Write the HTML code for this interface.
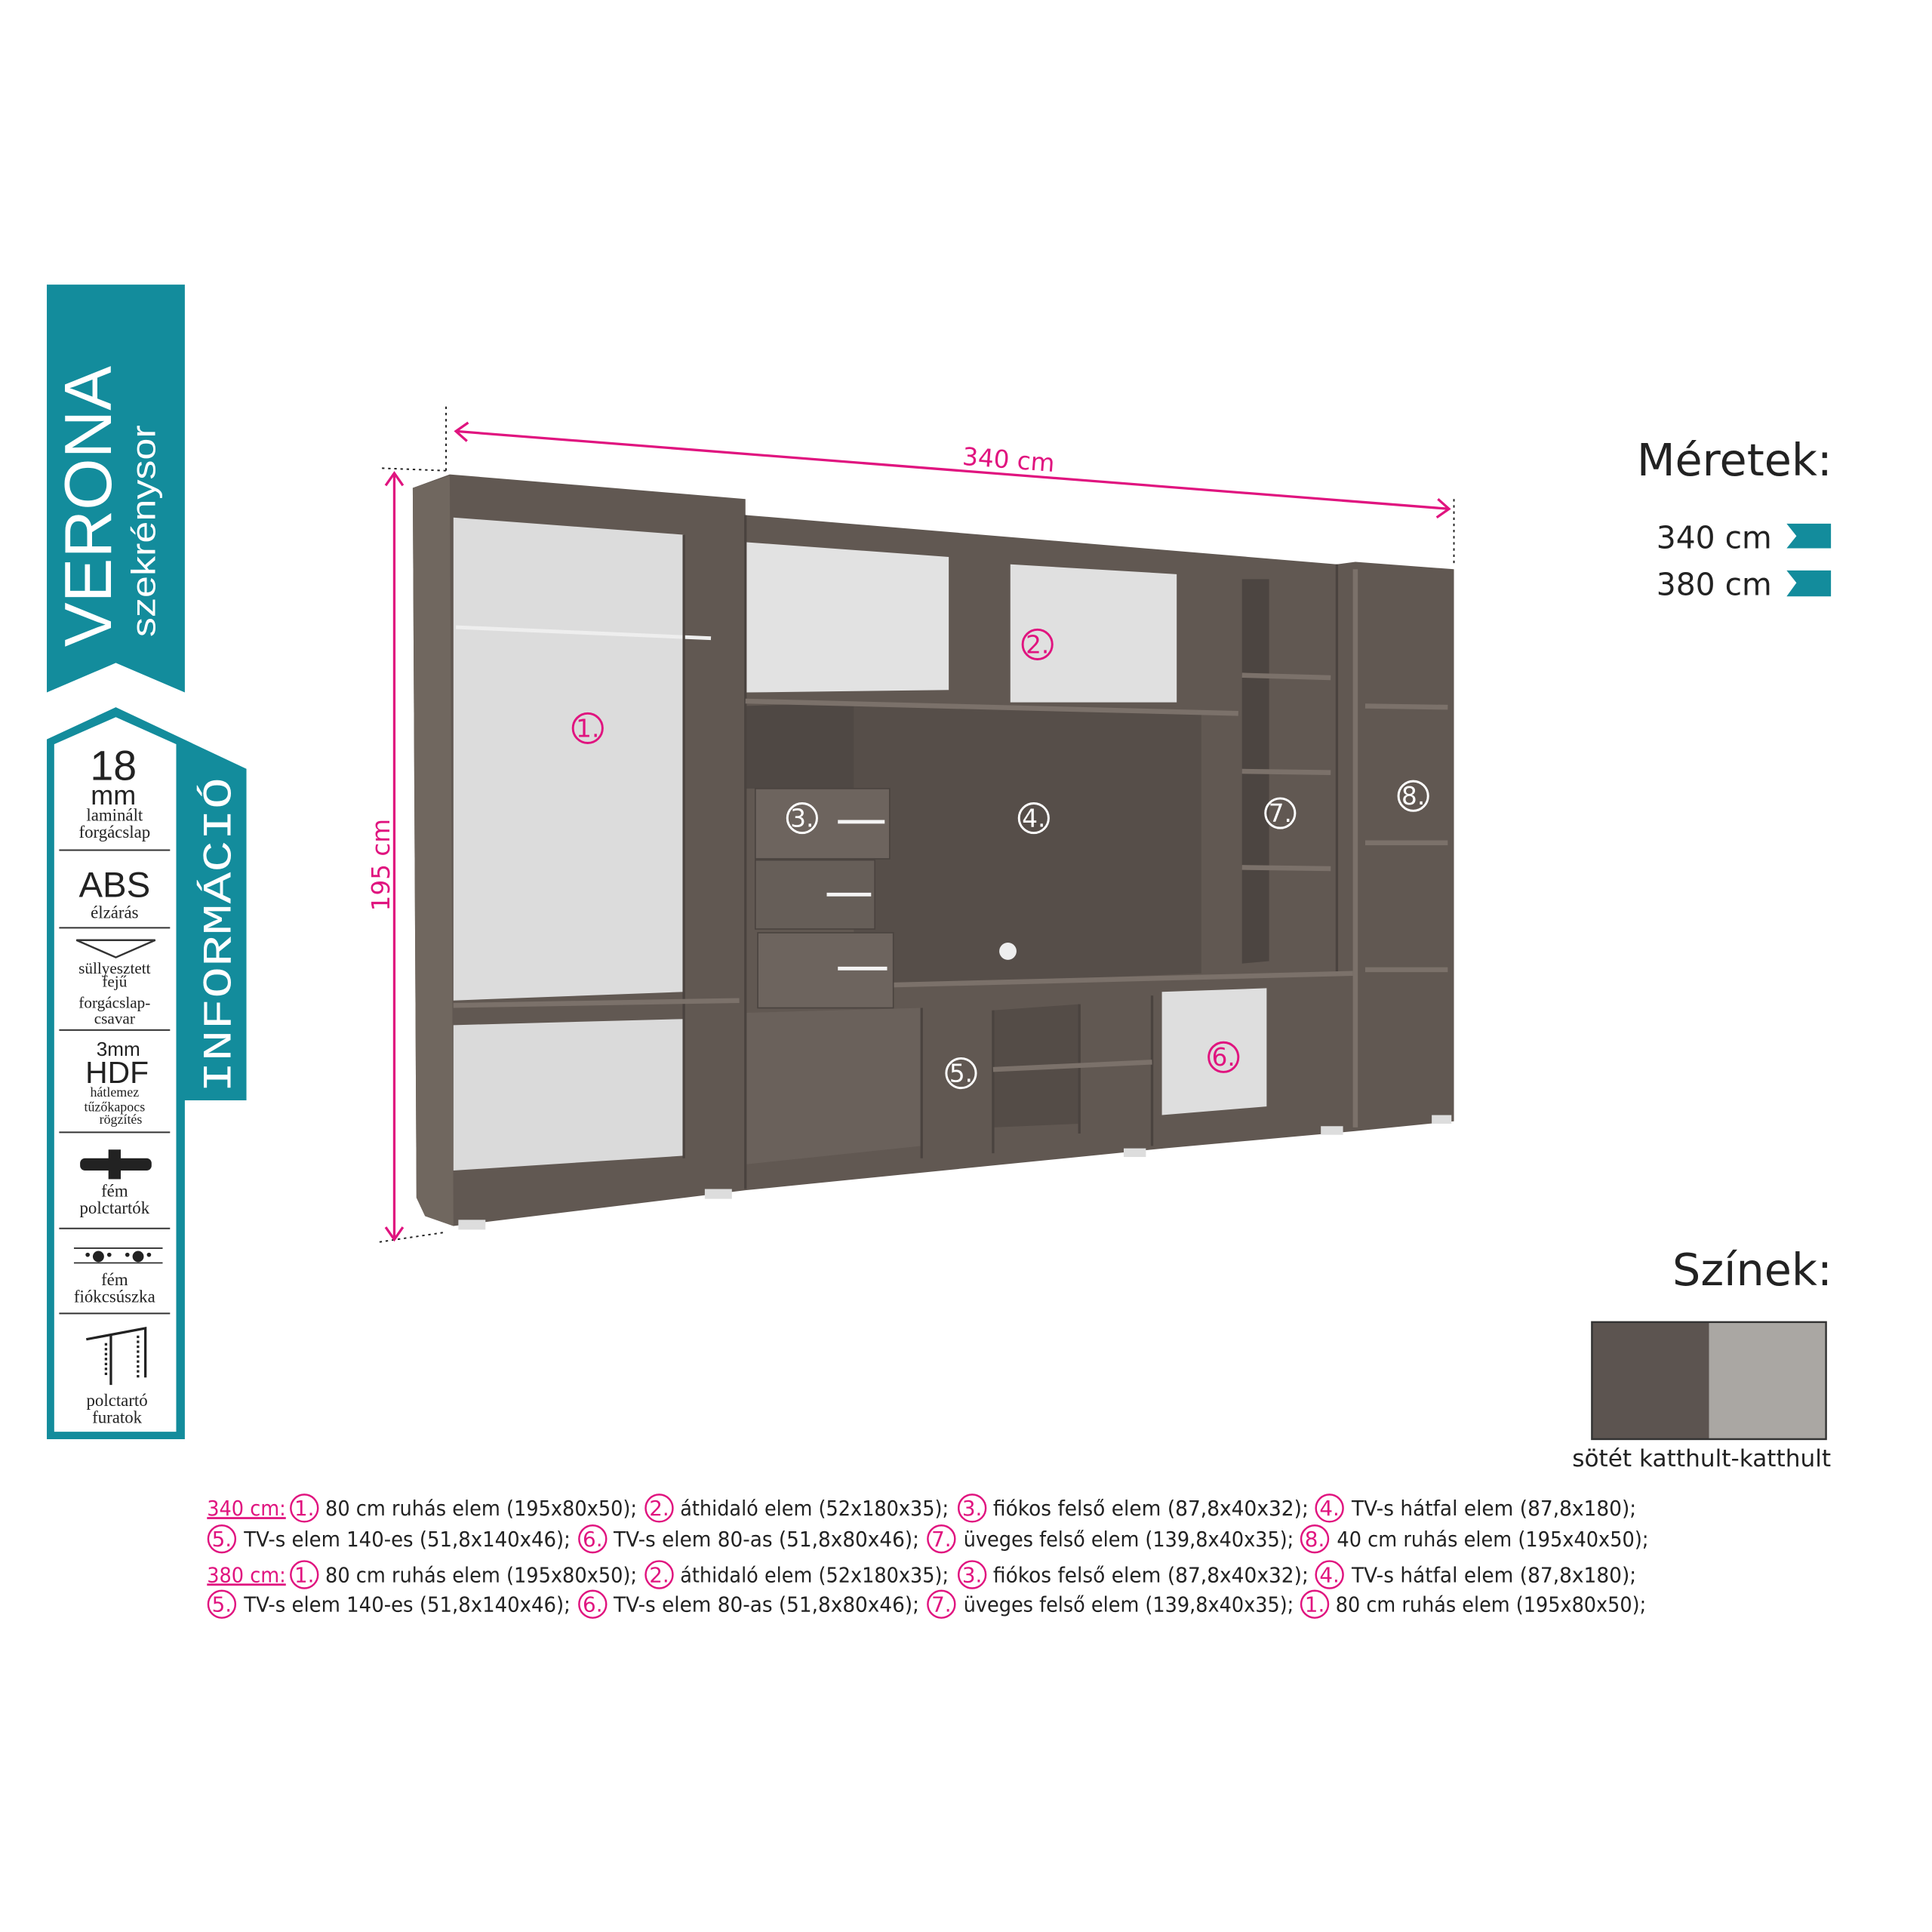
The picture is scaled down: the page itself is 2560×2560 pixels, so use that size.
<!DOCTYPE html>
<html><head><meta charset="utf-8"><style>
html,body{margin:0;padding:0;background:#fff;}
svg{display:block;}
text{font-family:"DejaVu Sans","Liberation Sans",sans-serif;}
.s{font-family:"Liberation Serif",serif;fill:#222;text-anchor:middle;}
.b{font-size:17px;fill:#222;}
.p{fill:#e0147f;}
</style></head><body>
<svg width="2560" height="2560" viewBox="0 0 1568 1568" xmlns="http://www.w3.org/2000/svg">
<rect width="1568" height="1568" fill="#fff"/>
<!-- Left banner -->
<polygon points="38,231 150,231 150,562 94,538 38,562" fill="#138c9c"/>
<text transform="translate(90,525) rotate(-90)" font-size="54" fill="#fff" textLength="228" lengthAdjust="spacingAndGlyphs" style="font-family:'Liberation Sans'">VERONA</text>
<text transform="translate(126,517) rotate(-90)" font-size="27" fill="#fff" textLength="172" lengthAdjust="spacingAndGlyphs" style="font-family:'Liberation Sans'">szekrénysor</text>
<!-- info box -->
<polygon points="38,600 94,574 200,624 200,893 150,893 150,1168 38,1168" fill="#138c9c"/>
<polygon points="44,604 94,582 143,604 143,1162 44,1162" fill="#fff"/>
<text transform="translate(187,887) rotate(-90)" font-size="33" fill="#fff" textLength="256" lengthAdjust="spacingAndGlyphs" style="font-family:'Liberation Mono'">INFORMÁCIÓ</text>
<g stroke="#333" stroke-width="1.2">
<line x1="48" y1="690" x2="138" y2="690"/><line x1="48" y1="753" x2="138" y2="753"/>
<line x1="48" y1="836" x2="138" y2="836"/><line x1="48" y1="919" x2="138" y2="919"/>
<line x1="48" y1="997" x2="138" y2="997"/><line x1="48" y1="1066" x2="138" y2="1066"/>
</g>
<text x="92" y="633" font-size="34" text-anchor="middle" fill="#222" style="font-family:'Liberation Sans'">18</text>
<text x="92" y="653" font-size="22" text-anchor="middle" fill="#222" style="font-family:'Liberation Sans'">mm</text>
<text class="s" x="93" y="666" font-size="14">laminált</text>
<text class="s" x="93" y="680" font-size="14">forgácslap</text>
<text x="93" y="728" font-size="29" text-anchor="middle" fill="#222" style="font-family:'Liberation Sans'">ABS</text>
<text class="s" x="93" y="745" font-size="14">élzárás</text>
<polygon points="62,763 126,763 94,777" fill="none" stroke="#333" stroke-width="1.5"/>
<text class="s" x="93" y="790" font-size="13">süllyesztett</text>
<text class="s" x="93" y="801" font-size="13">fejű</text>
<text class="s" x="93" y="818" font-size="13">forgácslap-</text>
<text class="s" x="93" y="831" font-size="13">csavar</text>
<text x="96" y="857" font-size="16" text-anchor="middle" fill="#222" style="font-family:'Liberation Sans'">3mm</text>
<text x="95" y="879" font-size="25" text-anchor="middle" fill="#222" style="font-family:'Liberation Sans'">HDF</text>
<text class="s" x="93" y="890" font-size="11">hátlemez</text>
<text class="s" x="93" y="902" font-size="11">tűzőkapocs</text>
<text class="s" x="98" y="912" font-size="11">rögzítés</text>
<rect x="65" y="940" width="58" height="10" rx="4" fill="#222"/><rect x="88" y="933" width="10" height="24" fill="#222"/>
<text class="s" x="93" y="971" font-size="14">fém</text>
<text class="s" x="93" y="985" font-size="14">polctartók</text>
<line x1="60" y1="1013" x2="132" y2="1013" stroke="#222"/><line x1="60" y1="1025" x2="132" y2="1025" stroke="#222"/>
<text x="96" y="1023" font-size="12" text-anchor="middle" fill="#222">•●• &#160;•●•</text>
<text class="s" x="93" y="1043" font-size="14">fém</text>
<text class="s" x="93" y="1057" font-size="14">fiókcsúszka</text>
<g stroke="#222" stroke-width="2" fill="none"><polyline points="70,1087 118,1078 118,1118"/><line x1="90" y1="1083" x2="90" y2="1124"/><line x1="86" y1="1090" x2="86" y2="1118" stroke-dasharray="2,2"/><line x1="112" y1="1084" x2="112" y2="1118" stroke-dasharray="2,2"/></g>
<text class="s" x="95" y="1141" font-size="14">polctartó</text>
<text class="s" x="95" y="1155" font-size="14">furatok</text>

<!-- Furniture -->
<polygon points="335,396 365,385 605,405 605,418 1085,458 1100,456 1180,462 1180,910 1100,918 945,932 605,966 368,995 345,987 338,972" fill="#615852"/>
<polygon points="335,396 365,386 368,995 345,987 338,972" fill="#70675f"/>
<polygon points="368,420 555,434 555,805 368,812" fill="#dcdcdc"/>
<polygon points="368,832 555,827 555,938 368,950" fill="#dadada"/>
<line x1="370" y1="509" x2="577" y2="518" stroke="#eee" stroke-width="3"/>
<polygon points="605,440 770,452 770,560 605,562" fill="#e2e2e2"/>
<polygon points="820,458 955,466 955,570 820,570" fill="#e0e0e0"/>
<polygon points="605,573 693,570 693,640 605,640" fill="#4f4844"/>
<polygon points="693,573 975,580 975,790 720,800 693,780" fill="#564e49"/>
<polygon points="605,822 748,818 748,930 605,945" fill="#6a615b"/>
<polygon points="806,820 876,815 876,912 806,915" fill="#544c47"/>
<polygon points="943,805 1028,802 1028,898 943,905" fill="#dedede"/>
<polygon points="1008,470 1030,470 1030,780 1008,782" fill="#4c4541"/>
<g stroke="#4a433f" stroke-width="2">
<line x1="555" y1="434" x2="555" y2="940"/><line x1="605" y1="418" x2="605" y2="965"/>
<line x1="748" y1="818" x2="748" y2="940"/><line x1="806" y1="820" x2="806" y2="936"/>
<line x1="876" y1="815" x2="876" y2="920"/><line x1="935" y1="808" x2="935" y2="930"/>
<line x1="1085" y1="458" x2="1085" y2="790"/>
</g>
<g stroke="#7b716a" stroke-width="4">
<line x1="368" y1="816" x2="600" y2="812"/>
<line x1="605" y1="569" x2="1005" y2="579"/>
<line x1="700" y1="800" x2="1098" y2="790"/>
<line x1="806" y1="868" x2="935" y2="862"/>
<line x1="1008" y1="548" x2="1080" y2="550"/><line x1="1008" y1="626" x2="1080" y2="627"/><line x1="1008" y1="704" x2="1080" y2="705"/>
<line x1="1108" y1="573" x2="1175" y2="574"/><line x1="1108" y1="684" x2="1175" y2="684"/><line x1="1108" y1="787" x2="1175" y2="787"/>
<line x1="1100" y1="462" x2="1100" y2="915"/>
</g>
<rect x="613" y="640" width="109" height="57" fill="#6d645e" stroke="#4a433f"/>
<rect x="613" y="698" width="97" height="56" fill="#665e58" stroke="#4a433f"/>
<rect x="615" y="757" width="110" height="61" fill="#6d645e" stroke="#4a433f"/>
<g stroke="#f4f4f4" stroke-width="3"><line x1="680" y1="667" x2="718" y2="667"/><line x1="671" y1="726" x2="707" y2="726"/><line x1="680" y1="786" x2="720" y2="786"/></g>
<circle cx="818" cy="772" r="7" fill="#eee"/>
<g fill="#ddd"><rect x="372" y="990" width="22" height="8"/><rect x="572" y="965" width="22" height="8"/><rect x="912" y="932" width="18" height="7"/><rect x="1072" y="914" width="18" height="7"/><rect x="1162" y="905" width="16" height="7"/></g>

<!-- labels on furniture -->
<g font-size="20" text-anchor="middle">
<circle cx="477" cy="591" r="12" fill="none" stroke="#e0147f" stroke-width="1.8"/><text x="477" y="598" class="p">1.</text>
<circle cx="842" cy="523" r="12" fill="none" stroke="#e0147f" stroke-width="1.8"/><text x="842" y="530" class="p">2.</text>
<circle cx="993" cy="858" r="12" fill="none" stroke="#e0147f" stroke-width="1.8"/><text x="993" y="865" class="p">6.</text>
<g fill="#fff"><circle cx="651" cy="664" r="12" fill="none" stroke="#fff" stroke-width="1.8"/><text x="651" y="671">3.</text>
<circle cx="839" cy="664" r="12" fill="none" stroke="#fff" stroke-width="1.8"/><text x="839" y="671">4.</text>
<circle cx="1039" cy="660" r="12" fill="none" stroke="#fff" stroke-width="1.8"/><text x="1039" y="667">7.</text>
<circle cx="1147" cy="646" r="12" fill="none" stroke="#fff" stroke-width="1.8"/><text x="1147" y="653">8.</text>
<circle cx="780" cy="871" r="12" fill="none" stroke="#fff" stroke-width="1.8"/><text x="780" y="878">5.</text></g>
</g>

<!-- dimensions -->
<g stroke="#222" stroke-dasharray="2,3" stroke-width="1.2" fill="none">
<line x1="362" y1="330" x2="362" y2="383"/><line x1="1180" y1="405" x2="1180" y2="460"/>
<line x1="310" y1="380" x2="362" y2="382"/><line x1="308" y1="1008" x2="362" y2="1000"/>
</g>
<g stroke="#e0147f" stroke-width="2" fill="none">
<line x1="370" y1="350" x2="1176" y2="413"/>
<polyline points="380,343 370,350 379,358"/><polyline points="1167,405 1176,413 1166,420"/>
<line x1="320" y1="384" x2="320" y2="1006"/>
<polyline points="313,394 320,384 327,394"/><polyline points="313,996 320,1006 327,996"/>
</g>
<text transform="translate(818,380) rotate(4.4)" font-size="20" class="p" text-anchor="middle">340 cm</text>
<text transform="translate(316,702) rotate(-90)" font-size="20" class="p" text-anchor="middle">195 cm</text>

<!-- right side -->
<text x="1487" y="386" font-size="36" text-anchor="end" fill="#222">Méretek:</text>
<text x="1438" y="445" font-size="25" text-anchor="end" fill="#222">340 cm</text>
<text x="1438" y="483" font-size="25" text-anchor="end" fill="#222">380 cm</text>
<polygon points="1450,425 1486,425 1486,445 1450,445 1458,435" fill="#138c9c"/>
<polygon points="1450,463 1486,463 1486,484 1450,484 1458,473" fill="#138c9c"/>
<text x="1487" y="1043" font-size="36" text-anchor="end" fill="#222">Színek:</text>
<rect x="1292" y="1073" width="95" height="95" fill="#5c5450"/>
<rect x="1387" y="1073" width="95" height="95" fill="#aaa7a3"/>
<rect x="1292" y="1073" width="190" height="95" fill="none" stroke="#333" stroke-width="1.5"/>
<text x="1381" y="1190" font-size="19" text-anchor="middle" fill="#222" textLength="210" lengthAdjust="spacingAndGlyphs">sötét katthult-katthult</text>

<!-- bottom legend -->
<g font-size="17" text-anchor="middle" class="p">
<g fill="none" stroke="#e0147f" stroke-width="1.5">
<circle cx="247" cy="1224" r="11"/><circle cx="535" cy="1224" r="11"/><circle cx="789" cy="1224" r="11"/><circle cx="1079" cy="1224" r="11"/>
<circle cx="180" cy="1249" r="11"/><circle cx="481" cy="1249" r="11"/><circle cx="764" cy="1249" r="11"/><circle cx="1067" cy="1249" r="11"/>
<circle cx="247" cy="1278" r="11"/><circle cx="535" cy="1278" r="11"/><circle cx="789" cy="1278" r="11"/><circle cx="1079" cy="1278" r="11"/>
<circle cx="180" cy="1302" r="11"/><circle cx="481" cy="1302" r="11"/><circle cx="764" cy="1302" r="11"/><circle cx="1067" cy="1302" r="11"/>
</g>
<text x="247" y="1230">1.</text><text x="535" y="1230">2.</text><text x="789" y="1230">3.</text><text x="1079" y="1230">4.</text>
<text x="180" y="1255">5.</text><text x="481" y="1255">6.</text><text x="764" y="1255">7.</text><text x="1067" y="1255">8.</text>
<text x="247" y="1284">1.</text><text x="535" y="1284">2.</text><text x="789" y="1284">3.</text><text x="1079" y="1284">4.</text>
<text x="180" y="1308">5.</text><text x="481" y="1308">6.</text><text x="764" y="1308">7.</text><text x="1067" y="1308">1.</text>
</g>
<g class="b">
<text x="168" y="1230" class="p" textLength="64" lengthAdjust="spacingAndGlyphs" text-decoration="underline">340 cm:</text>
<text x="264" y="1230" textLength="253" lengthAdjust="spacingAndGlyphs">80 cm ruhás elem (195x80x50);</text>
<text x="552" y="1230" textLength="218" lengthAdjust="spacingAndGlyphs">áthidaló elem (52x180x35);</text>
<text x="806" y="1230" textLength="256" lengthAdjust="spacingAndGlyphs">fiókos felső elem (87,8x40x32);</text>
<text x="1097" y="1230" textLength="231" lengthAdjust="spacingAndGlyphs">TV-s hátfal elem (87,8x180);</text>
<text x="198" y="1255" textLength="265" lengthAdjust="spacingAndGlyphs">TV-s elem 140-es (51,8x140x46);</text>
<text x="498" y="1255" textLength="248" lengthAdjust="spacingAndGlyphs">TV-s elem 80-as (51,8x80x46);</text>
<text x="782" y="1255" textLength="268" lengthAdjust="spacingAndGlyphs">üveges felső elem (139,8x40x35);</text>
<text x="1085" y="1255" textLength="253" lengthAdjust="spacingAndGlyphs">40 cm ruhás elem (195x40x50);</text>
<text x="168" y="1284" class="p" textLength="64" lengthAdjust="spacingAndGlyphs" text-decoration="underline">380 cm:</text>
<text x="264" y="1284" textLength="253" lengthAdjust="spacingAndGlyphs">80 cm ruhás elem (195x80x50);</text>
<text x="552" y="1284" textLength="218" lengthAdjust="spacingAndGlyphs">áthidaló elem (52x180x35);</text>
<text x="806" y="1284" textLength="256" lengthAdjust="spacingAndGlyphs">fiókos felső elem (87,8x40x32);</text>
<text x="1097" y="1284" textLength="231" lengthAdjust="spacingAndGlyphs">TV-s hátfal elem (87,8x180);</text>
<text x="198" y="1308" textLength="265" lengthAdjust="spacingAndGlyphs">TV-s elem 140-es (51,8x140x46);</text>
<text x="498" y="1308" textLength="248" lengthAdjust="spacingAndGlyphs">TV-s elem 80-as (51,8x80x46);</text>
<text x="782" y="1308" textLength="268" lengthAdjust="spacingAndGlyphs">üveges felső elem (139,8x40x35);</text>
<text x="1084" y="1308" textLength="252" lengthAdjust="spacingAndGlyphs">80 cm ruhás elem (195x80x50);</text>
</g>
</svg>
</body></html>
